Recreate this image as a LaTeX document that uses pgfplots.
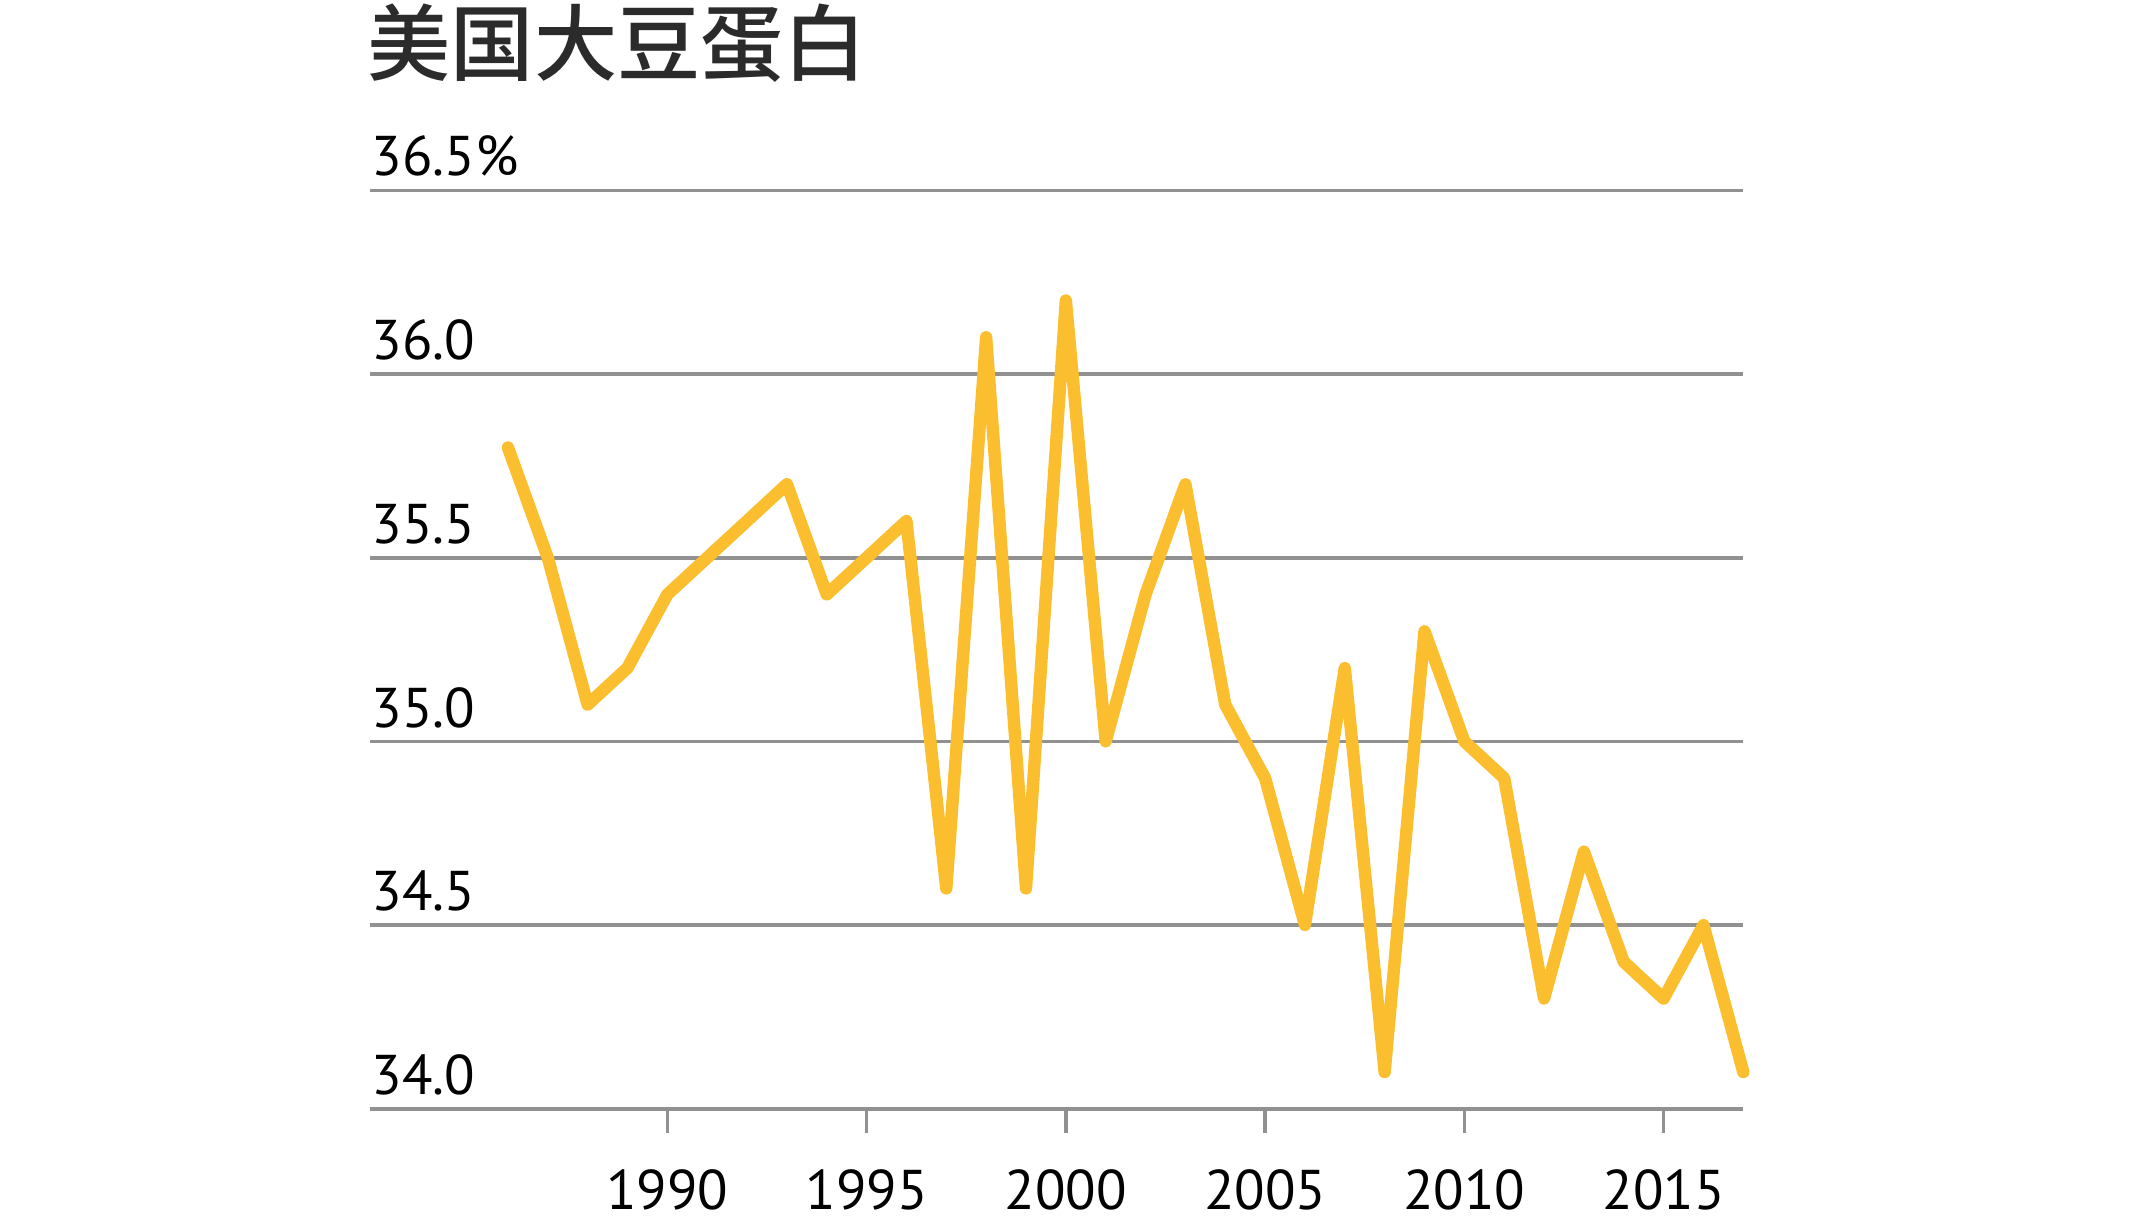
\documentclass[border=0pt]{standalone}
\usepackage{fontspec}
\setmainfont{PT Sans}
\newfontfamily\cjk{Noto Sans CJK SC}[UprightFont={* Medium}]
\usepackage{pgfplots}
\pgfplotsset{compat=1.18}
\definecolor{lineyellow}{RGB}{251,190,46}
\definecolor{gridgray}{RGB}{145,145,145}
\definecolor{titlegray}{RGB}{43,43,43}
\begin{document}
\begin{tikzpicture}
\begin{axis}[
  at={(0,0)}, anchor=south west,
  scale only axis,
  width=343.3pt, height=229.6pt,
  xmin=1982.54, xmax=2017,
  ymin=34, ymax=36.5,
  clip=false,
  axis line style={draw=none},
  ymajorgrids,
  grid style={gridgray, line width=0.9pt},
  ytick={34,34.5,35,35.5,36,36.5},
  yticklabels={34.0,34.5,35.0,35.5,36.0,36.5\%},
  ytick style={draw=none},
  xtick={1990,1995,2000,2005,2010,2015},
  xticklabels={1990,1995,2000,2005,2010,2015},
  xtick pos=bottom,
  xtick align=outside,
  major tick length=6pt,
  xtick style={gridgray, line width=0.9pt},
  /pgf/number format/assume math mode=true,
  yticklabel style={anchor=base west, inner sep=0pt, xshift=0.2pt, yshift=3.6pt, font=\fontsize{14}{16}\selectfont, text=black},
  xticklabel style={anchor=base, inner sep=0pt, yshift=-19.1pt, font=\fontsize{14}{16}\selectfont, text=black},
]
\addplot[lineyellow, line width=3.1pt, line cap=round, line join=round] table {
x y
1986 35.80
1987 35.50
1988 35.10
1989 35.20
1990 35.40
1991 35.50
1992 35.60
1993 35.70
1994 35.40
1995 35.50
1996 35.60
1997 34.60
1998 36.10
1999 34.60
2000 36.20
2001 35.00
2002 35.40
2003 35.70
2004 35.10
2005 34.90
2006 34.50
2007 35.20
2008 34.10
2009 35.30
2010 35.00
2011 34.90
2012 34.30
2013 34.70
2014 34.40
2015 34.30
2016 34.50
2017 34.10
};
\end{axis}
\node[anchor=west, inner sep=0pt, text=titlegray] at (-0.8pt,266.3pt) {\cjk\fontsize{20.8}{24}\selectfont 美国大豆蛋白};
\pgfresetboundingbox
\path[use as bounding box] (-92.51pt,-29.81pt) rectangle (444.73pt,277.19pt);
\end{tikzpicture}
\end{document}
